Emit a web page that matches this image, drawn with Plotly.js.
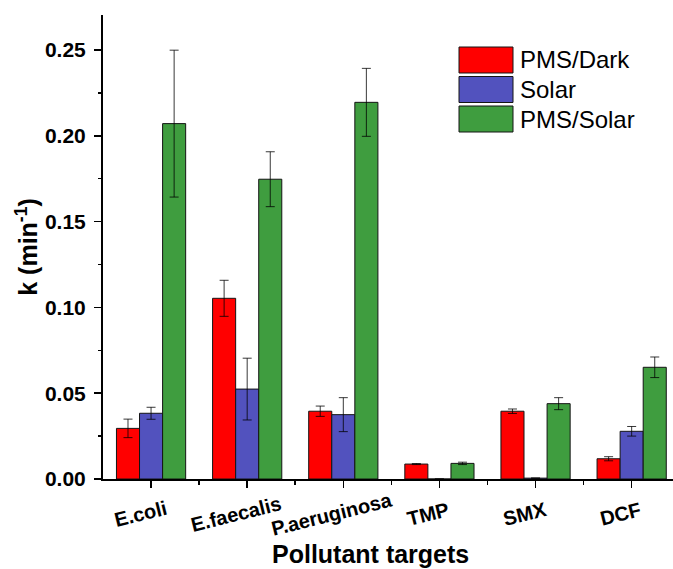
<!DOCTYPE html>
<html>
<head>
<meta charset="utf-8">
<script src="https://cdn.plot.ly/plotly-3.0.1.min.js"></script>
<style>html,body{margin:0;padding:0;background:#fff;}#chart{width:673px;height:569px;}</style>
</head>
<body>
<div id="chart"></div>
<script>
// Data
const categories = ["E.coli", "E.faecalis", "P.aeruginosa", "TMP", "SMX", "DCF"];
const seriesNames = ["PMS/Dark", "Solar", "PMS/Solar"];
const pmsDark      = [0.0295, 0.1053, 0.0395, 0.0087, 0.0395, 0.0118];
const pmsDarkErr   = [0.0054, 0.0105, 0.0030, 0.0003, 0.0013, 0.0012];
const solar        = [0.0383, 0.0524, 0.0375, 0, 0.0005, 0.0278];
const solarErr     = [0.0035, 0.0180, 0.0099, 0, 0, 0.0028];
const pmsSolar     = [0.2071, 0.1747, 0.2195, 0.0091, 0.0439, 0.0651];
const pmsSolarErr  = [0.0428, 0.0160, 0.0198, 0.0007, 0.0035, 0.0060];
const yTickVals    = [0, 0.05, 0.10, 0.15, 0.20, 0.25];

const colors = ["#FF0000", "#5252BE", "#3F9D3F"];
const values = [pmsDark, solar, pmsSolar];
const errors = [pmsDarkErr, solarErr, pmsSolarErr];
const xIdx = categories.map((c, i) => i);

const FONT = "Liberation Sans, Arial, Helvetica, sans-serif";

const traces = values.map((v, k) => ({
  type: "bar",
  name: seriesNames[k],
  x: xIdx,
  y: v,
  marker: { color: colors[k], line: { color: "rgb(20,20,20)", width: 1 } },
  error_y: { type: "data", array: errors[k], visible: true, color: "rgba(0,0,0,0.78)", thickness: 1, width: 4.5 },
  showlegend: false,
  hoverinfo: "x+y"
}));

const annotations = [];
categories.forEach((c, i) => {
  annotations.push({
    text: c, x: i, xref: "x", y: 0, yref: "paper",
    xanchor: "center", yanchor: "middle", xshift: -11, yshift: -35,
    textangle: -14, showarrow: false,
    font: { family: FONT, size: 20, weight: "bold", color: "#000" }
  });
});
annotations.push({
  text: "Pollutant targets", x: 0.469, xref: "paper", y: -0.162, yref: "paper",
  xanchor: "center", yanchor: "middle", showarrow: false,
  font: { family: FONT, size: 25, weight: "bold", color: "#000" }
});

// legend drawn as large swatches
const shapes = [];
const legTop = 47, legStep = 29.5, legH = 26, plotTop = 15, plotH = 464, plotL = 103, plotW = 570;
const py = (px) => (plotTop + plotH - px) / plotH;
const pxX = (px) => (px - plotL) / plotW;
seriesNames.forEach((n, k) => {
  const top = legTop + k * legStep;
  shapes.push({
    type: "rect", xref: "paper", yref: "paper",
    x0: pxX(459), x1: pxX(513), y0: py(top + legH), y1: py(top),
    fillcolor: colors[k], line: { color: "rgb(20,20,20)", width: 1 }
  });
  annotations.push({
    text: n, xref: "paper", yref: "paper", x: pxX(518), y: py(top + legH / 2),
    xanchor: "left", yanchor: "middle", showarrow: false,
    font: { family: FONT, size: 24, color: "#000" }
  });
});

const layout = {
  width: 673, height: 569,
  margin: { l: 103, r: 0, t: 15, b: 90 },
  paper_bgcolor: "#fff", plot_bgcolor: "#fff",
  barmode: "group", bargap: 0.28, bargroupgap: 0,
  showlegend: false,
  font: { family: FONT, color: "#000" },
  xaxis: {
    type: "linear", range: [-0.5, 5.43],
    tickmode: "array", tickvals: xIdx,
    showticklabels: false,
    ticks: "outside", ticklen: 7, tickwidth: 1.5, tickcolor: "#000",
    minor: { tickmode: "array", tickvals: xIdx.slice(0, 5).map(i => i + 0.5), ticks: "outside", ticklen: 3.5, tickwidth: 1.5, tickcolor: "#000" },
    showline: true, linecolor: "#000", linewidth: 2,
    showgrid: false, zeroline: false, fixedrange: true
  },
  yaxis: {
    range: [0, 0.2704],
    tickmode: "array", tickvals: yTickVals, tickformat: ".2f",
    ticks: "outside", ticklen: 7, tickwidth: 1.5, tickcolor: "#000",
    minor: { tickmode: "array", tickvals: yTickVals.map(v => v + 0.025), ticks: "outside", ticklen: 3.5, tickwidth: 1.5, tickcolor: "#000" },
    tickfont: { family: FONT, size: 21, weight: "bold", color: "#000" },
    ticklabelstandoff: 4,
    showline: true, linecolor: "#000", linewidth: 2,
    showgrid: false, zeroline: false, fixedrange: true,
    title: { text: "k (min<sup>-1</sup>)", font: { family: FONT, size: 25, weight: "bold", color: "#000" }, standoff: 0 }
  },
  shapes: shapes,
  annotations: annotations
};

Plotly.newPlot("chart", traces, layout, { displayModeBar: false, staticPlot: true });
</script>
</body>
</html>
